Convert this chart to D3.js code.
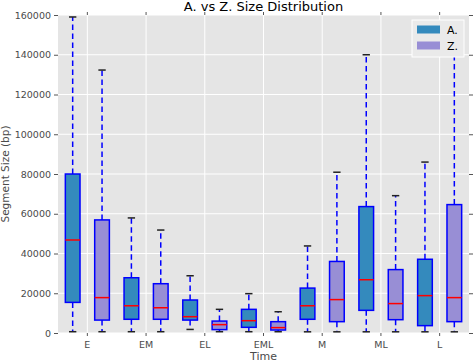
<!DOCTYPE html>
<html><head><meta charset="utf-8">
<script src="https://cdn.jsdelivr.net/npm/d3@7"></script>
<style>body{margin:0;background:#fff}svg{display:block}text{font-family:"DejaVu Sans",sans-serif}</style>
</head><body><svg id="c" width="473" height="363"></svg>
<script>
const categories = ["E","EM","EL","EML","M","ML","L"];
const seriesNames = ["A.","Z."];
// five-number summaries per category: [low whisker, Q1, median, Q3, high whisker]
const aLow    = [650, 650, 1800, 650, 600, 600, 600];
const aQ1     = [15400, 6900, 6500, 2850, 6900, 11400, 3700];
const aMedian = [46800, 13700, 8200, 6200, 13700, 26800, 18800];
const aQ3     = [80000, 27800, 16600, 11900, 22600, 63600, 37100];
const aHigh   = [159000, 57900, 28800, 19800, 43800, 140000, 86000];
const zLow    = [650, 650, 650, 650, 600, 600, 600];
const zQ1     = [6500, 6900, 1700, 1500, 5700, 6700, 5700];
const zMedian = [17800, 12700, 4200, 2700, 16800, 14800, 17800];
const zQ3     = [56900, 24800, 6000, 5700, 36000, 31900, 64600];
const zHigh   = [132300, 51800, 11900, 10700, 80900, 69100, 150000];
const yTicks  = [0,20000,40000,60000,80000,100000,120000,140000,160000];

const colors = ["#348ABD","#988ED5"];
const svg = d3.select("#c");
const L=58, R=469, T=15, B=333;
const x = d3.scaleBand().domain(categories).range([L,R]).padding(0);
const y = d3.scaleLinear().domain([0,160000]).range([B,T]);
const bw = x.bandwidth();
const offset = d3.scaleOrdinal().domain(seriesNames).range([-0.25*bw, 0.25*bw]);
const boxW = 0.25*bw;

svg.append("rect").attr("x",L).attr("y",T).attr("width",R-L).attr("height",B-T).attr("fill","#E5E5E5");
// grid
svg.append("g").selectAll("line").data(yTicks).join("line")
  .attr("x1",L).attr("x2",R).attr("y1",d=>y(d)).attr("y2",d=>y(d)).attr("stroke","#fff").attr("stroke-width",1);
svg.append("g").selectAll("line").data(categories).join("line")
  .attr("x1",d=>x(d)+bw/2).attr("x2",d=>x(d)+bw/2).attr("y1",T).attr("y2",B).attr("stroke","#fff").attr("stroke-width",1);

// axes
const axL = svg.append("g").attr("transform",`translate(${L},0)`)
  .call(d3.axisLeft(y).tickValues(yTicks).tickFormat(d3.format("d")).tickSize(4).tickPadding(3));
const axR = svg.append("g").attr("transform",`translate(${R},0)`)
  .call(d3.axisRight(y).tickValues(yTicks).tickFormat("").tickSize(4));
const axB = svg.append("g").attr("transform",`translate(0,${B})`)
  .call(d3.axisBottom(x).tickSize(3).tickPadding(5));
const axT = svg.append("g").attr("transform",`translate(0,${T})`)
  .call(d3.axisTop(x).tickSize(3).tickFormat(""));
[axL,axR,axB,axT].forEach(g=>{
  g.select(".domain").remove();
  g.selectAll(".tick line").attr("stroke","#555");
  g.selectAll("text").attr("fill","#4a4a4a").style("font-size","9.5px").style("font-family","DejaVu Sans");
});

const series = [
  {name:"A.", low:aLow,q1:aQ1,med:aMedian,q3:aQ3,high:aHigh,color:colors[0]},
  {name:"Z.", low:zLow,q1:zQ1,med:zMedian,q3:zQ3,high:zHigh,color:colors[1]}
];
const boxes = [];
series.forEach(s=>categories.forEach((c,i)=>boxes.push({c,s:s.name,color:s.color,low:s.low[i],q1:s.q1[i],med:s.med[i],q3:s.q3[i],high:s.high[i]})));
const cx = d=>x(d.c)+bw/2+offset(d.s);
const g = svg.append("g");
const bg = g.selectAll("g").data(boxes).join("g");
bg.append("line").attr("x1",cx).attr("x2",cx).attr("y1",d=>y(d.q3)).attr("y2",d=>y(d.high))
  .attr("stroke","#0000FF").attr("stroke-width",1.5).attr("stroke-dasharray","5.5,3.5");
bg.append("line").attr("x1",cx).attr("x2",cx).attr("y1",d=>y(d.q1)).attr("y2",d=>y(d.low))
  .attr("stroke","#0000FF").attr("stroke-width",1.5).attr("stroke-dasharray","5.5,3.5");
bg.append("line").attr("x1",d=>cx(d)-boxW/4).attr("x2",d=>cx(d)+boxW/4).attr("y1",d=>y(d.high)).attr("y2",d=>y(d.high))
  .attr("stroke","#222").attr("stroke-width",1.5);
bg.append("line").attr("x1",d=>cx(d)-boxW/4).attr("x2",d=>cx(d)+boxW/4).attr("y1",d=>y(d.low)).attr("y2",d=>y(d.low))
  .attr("stroke","#222").attr("stroke-width",1.5);
bg.append("rect").attr("x",d=>cx(d)-boxW/2).attr("width",boxW).attr("y",d=>y(d.q3)).attr("height",d=>y(d.q1)-y(d.q3))
  .attr("fill",d=>d.color).attr("stroke","#0000FF").attr("stroke-width",1.5);
bg.append("line").attr("x1",d=>cx(d)-boxW/2).attr("x2",d=>cx(d)+boxW/2).attr("y1",d=>y(d.med)).attr("y2",d=>y(d.med))
  .attr("stroke","#FF0000").attr("stroke-width",1.5);

// title and labels
svg.append("text").attr("x",(L+R)/2).attr("y",11).attr("text-anchor","middle").attr("fill","#000").style("font-size","13px").text("A. vs Z. Size Distribution");
svg.append("text").attr("x",(L+R)/2).attr("y",360).attr("text-anchor","middle").attr("fill","#4a4a4a").style("font-size","11px").text("Time");
svg.append("text").attr("transform",`translate(9,${(T+B)/2}) rotate(-90)`).attr("text-anchor","middle").attr("fill","#4a4a4a").style("font-size","10.5px").text("Segment Size (bp)");

// legend
const lg = svg.append("g");
lg.append("rect").attr("x",412).attr("y",20).attr("width",52).attr("height",37).attr("fill","#EAEAEA").attr("stroke","#fff").attr("stroke-width",1);
const li = lg.selectAll("g").data(seriesNames).join("g").attr("transform",(d,i)=>`translate(0,${i*16})`);
li.append("rect").attr("x",417).attr("y",25.5).attr("width",23).attr("height",8).attr("fill",(d,i)=>colors[i]);
li.append("text").attr("x",447).attr("y",34).attr("fill","#000").style("font-size","11px").text(d=>d);
</script></body></html>
